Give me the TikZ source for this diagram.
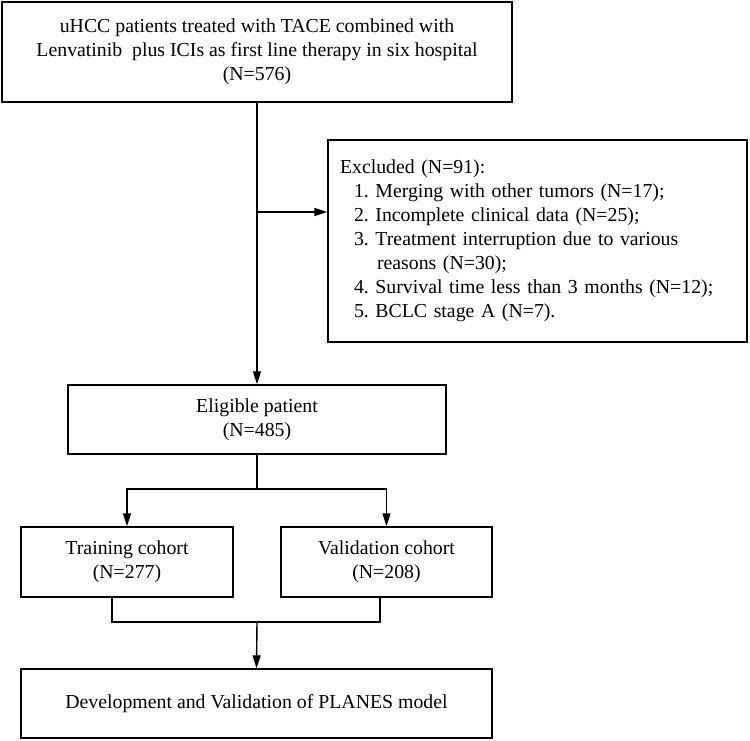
\documentclass[tikz,border=0pt]{standalone}
\usepackage{fontspec}
\setmainfont{Liberation Serif}
\usetikzlibrary{arrows.meta}
\begin{document}
\frenchspacing
\begin{tikzpicture}[x=1pt,y=-1pt,
  every node/.style={font=\fontsize{19.8}{24}\selectfont},
  box/.style={draw,line width=1.4pt,rectangle,inner sep=0pt,align=center},
  conn/.style={line width=1.4pt},
  arr/.style={conn,-{Triangle[length=13pt,width=8pt]}}]
  \useasboundingbox (0,0) rectangle (750,741);
  % boxes
  \node[box,minimum width=510,minimum height=100] (top) at (257,52)
    {uHCC patients treated with TACE combined with\\
     Lenvatinib\ \ plus ICIs as first line therapy in six hospital\\
     (N=576)};
  \node[box,minimum width=419,minimum height=202,text width=395,inner xsep=12pt,align=left] (excl) at (537.5,241)
    {Excluded (N=91):\\
     \hspace*{14pt}1. Merging with other tumors (N=17);\\
     \hspace*{14pt}2. Incomplete clinical data (N=25);\\
     \hspace*{14pt}3. Treatment interruption due to various\\
     \hspace*{37pt}reasons (N=30);\\
     \hspace*{14pt}4. Survival time less than 3 months (N=12);\\
     \hspace*{14pt}5. BCLC stage A (N=7).};
  \node[box,minimum width=378,minimum height=69] (elig) at (257,419.5)
    {Eligible patient\\(N=485)};
  \node[box,minimum width=212,minimum height=70] (train) at (127,562)
    {Training cohort\\(N=277)};
  \node[box,minimum width=211,minimum height=70] (valid) at (386.5,562)
    {Validation cohort\\(N=208)};
  \node[box,minimum width=471,minimum height=69] (final) at (256.5,703.5)
    {Development and Validation of PLANES model};
  % junction points
  \coordinate (branch) at (257,212);
  \coordinate (split) at (257,489);
  \coordinate (trainout) at (112,597);
  \coordinate (validout) at (380,597);
  \coordinate (mergeL) at (112,622);
  \coordinate (mergeR) at (380,622);
  \coordinate (merge) at (257,622);
  % connectors
  \draw[arr] (top.south) -- (elig.north);
  \draw[arr] (branch) -- (branch -| excl.west);
  \draw[conn] (elig.south) -- (split);
  \draw[arr] (split) -| (train.north);
  \draw[arr] (split) -| (valid.north);
  \draw[conn] (trainout) -- (mergeL) -- (mergeR) -- (validout);
  \draw[arr] (merge) -- (final.north);
\end{tikzpicture}
\end{document}
